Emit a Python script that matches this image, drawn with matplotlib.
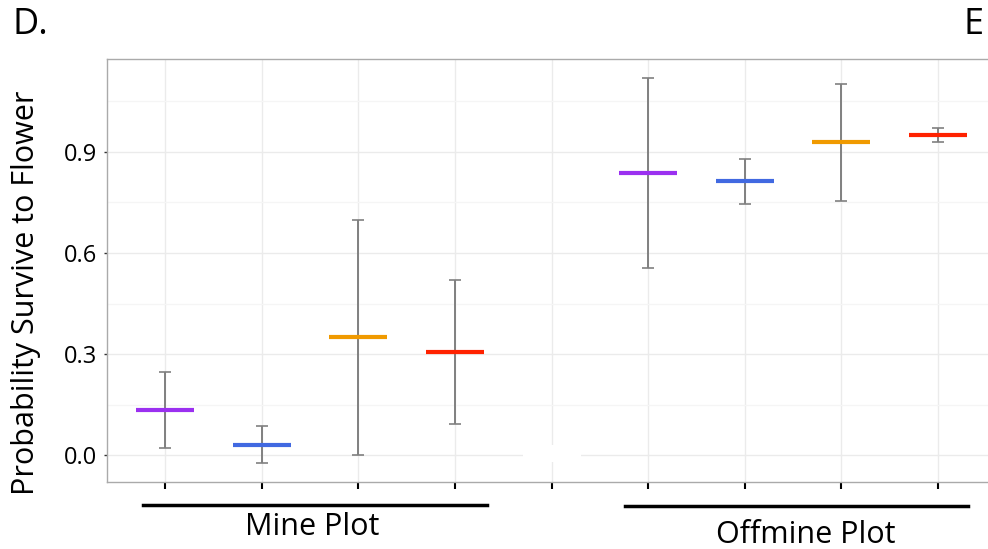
import matplotlib.pyplot as plt
from matplotlib.patches import Rectangle

plt.rcParams['font.family'] = ['Open Sans', 'DejaVu Sans']

# survival estimates, position 5 is an empty spacer between the plots
positions = [1, 2, 3, 4, 6, 7, 8, 9]
means = [0.134, 0.031, 0.350, 0.305, 0.838, 0.813, 0.929, 0.951]
upper = [0.247, 0.086, 0.699, 0.519, 1.121, 0.879, 1.102, 0.972]
lower = [0.022, -0.025, 0.001, 0.093, 0.554, 0.746, 0.754, 0.930]
colors = ["#9b30f0", "#4169e1", "#f09a00", "#ff2200"] * 2

y_ticks = [0.0, 0.3, 0.6, 0.9]
y_tick_labels = ["0.0", "0.3", "0.6", "0.9"]
groups = ["Mine Plot", "Offmine Plot"]

W, H = 988, 549
fig = plt.figure(figsize=(W / 100, H / 100), dpi=100)
ax = fig.add_axes([107 / W, (H - 482) / H, (996 - 107) / W, (482 - 59) / H])

ax.set_xlim(0.4, 9.6)
ax.set_ylim(-0.08, 1.176)

# grid like ggplot theme_bw
ax.set_axisbelow(True)
ax.set_yticks(y_ticks)
ax.set_yticklabels(y_tick_labels, fontsize=17)
ax.set_yticks([0.15, 0.45, 0.75, 1.05], minor=True)
ax.set_xticks(range(1, 10))
ax.set_xticklabels([])
ax.grid(True, which="major", color="#ebebeb", linewidth=1)
ax.grid(True, which="minor", axis="y", color="#f5f5f5", linewidth=1)
ax.tick_params(axis="x", length=5, width=1.5, color="black")
ax.tick_params(axis="y", which="major", length=2, width=1, color="#333333", pad=5)
ax.tick_params(axis="y", which="minor", length=0)
for s in ax.spines.values():
    s.set_color("#aaaaaa")
    s.set_linewidth(1)

# white patch over the blank category label area
ax.add_patch(Rectangle((4.70, -0.021), 0.61, 0.051, facecolor="white",
                       edgecolor="none", zorder=0.6))

err_low = [m - l for m, l in zip(means, lower)]
err_up = [u - m for m, u in zip(means, upper)]
ax.errorbar(positions, means, yerr=[err_low, err_up], fmt="none",
            ecolor="#808080", elinewidth=1.4, capsize=4, capthick=1.2, zorder=2)
ax.hlines(means, [p - 0.3 for p in positions], [p + 0.3 for p in positions],
          colors=colors, linewidth=3, zorder=3)

fig.text(26 / W, (H - 293) / H, "Probability Survive to Flower", fontsize=22,
         rotation=90, ha="center", va="center")

# group brackets under the axis
fig.add_artist(plt.Line2D([143 / W, 487 / W], [(H - 505) / H] * 2,
                          color="black", linewidth=2.5))
fig.add_artist(plt.Line2D([625 / W, 968 / W], [(H - 506) / H] * 2,
                          color="black", linewidth=2.5))
fig.text(312 / W, (H - 535) / H, groups[0], fontsize=22, ha="center", va="baseline")
fig.text(806 / W, (H - 543) / H, groups[1], fontsize=22, ha="center", va="baseline")

fig.text(12 / W, (H - 34) / H, "D.", fontsize=26, va="baseline")
fig.text(963 / W, (H - 34) / H, "E", fontsize=26, va="baseline")

fig.savefig("out.png", dpi=100)
